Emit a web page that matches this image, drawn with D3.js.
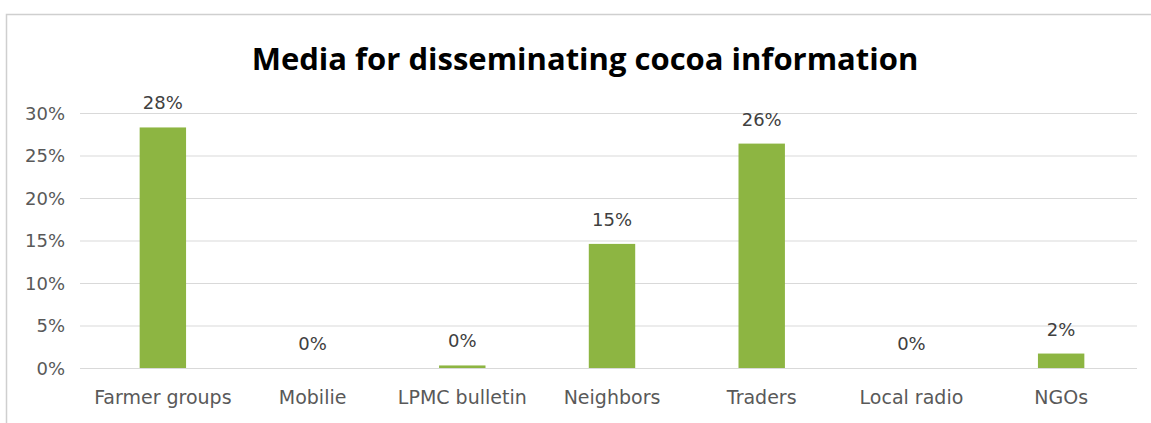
<!DOCTYPE html>
<html>
<head>
<meta charset="utf-8">
<script src="https://cdn.jsdelivr.net/npm/d3@7"></script>
<style>
  html, body { margin: 0; padding: 0; background: #fff; }
  svg { display: block; font-family: "DejaVu Sans", "Open Sans", sans-serif; }
</style>
</head>
<body>
<svg id="chart" width="1151" height="423"></svg>
<script>
// Share of respondents by channel used to receive cocoa information
const categories = ["Farmer groups", "Mobilie", "LPMC bulletin", "Neighbors", "Traders", "Local radio", "NGOs"];
const shares = [0.283, 0.0, 0.003, 0.146, 0.264, 0.0, 0.017];
const yTicks = [0, 0.05, 0.10, 0.15, 0.20, 0.25, 0.30];
const title = "Media for disseminating cocoa information";

const svg = d3.select("#chart");
const W = 1151, H = 423;

// Frame of the chart area
svg.append("rect")
  .attr("x", 6.5).attr("y", 14.5)
  .attr("width", W + 20).attr("height", H + 20)
  .attr("fill", "#fff")
  .attr("stroke", "#cfcfcf")
  .attr("stroke-width", 1.5);

const gridLeft = 80, gridRight = 1137;
const x = d3.scaleBand()
  .domain(categories)
  .range([88, 1136])
  .paddingInner(0.69)
  .paddingOuter(0.345);

const y = d3.scaleLinear()
  .domain([0, 0.30])
  .range([368, 113]);

const pct = d3.format(".0%");

// Title
svg.append("text")
  .attr("x", 585).attr("y", 70)
  .attr("text-anchor", "middle")
  .attr("font-family", "'Open Sans', 'Noto Sans', sans-serif")
  .attr("font-size", 31)
  .attr("font-weight", 700)
  .attr("fill", "#000")
  .text(title);

// Y axis with horizontal gridlines
const yAxis = svg.append("g")
  .attr("transform", `translate(${gridLeft},0)`)
  .call(d3.axisLeft(y)
    .tickValues(yTicks)
    .tickFormat(pct)
    .tickSize(-(gridRight - gridLeft))
    .tickPadding(15));
yAxis.select(".domain").remove();
yAxis.selectAll(".tick line")
  .attr("stroke", "#d9d9d9")
  .attr("stroke-width", 1.2);
yAxis.selectAll(".tick text")
  .attr("fill", "#595959")
  .attr("font-family", "'DejaVu Sans', sans-serif")
  .attr("font-size", 18)
  .attr("dy", "0.36em");

// Bars
svg.append("g").selectAll("rect")
  .data(categories)
  .join("rect")
  .attr("x", d => x(d))
  .attr("width", x.bandwidth())
  .attr("y", (d, i) => y(shares[i]))
  .attr("height", (d, i) => y(0) - y(shares[i]))
  .attr("fill", "#8db542");

// Value labels above bars
svg.append("g").selectAll("text")
  .data(categories)
  .join("text")
  .attr("x", d => x(d) + x.bandwidth() / 2)
  .attr("y", (d, i) => y(shares[i]) - 18)
  .attr("text-anchor", "middle")
  .attr("font-size", 18)
  .attr("fill", "#404040")
  .text((d, i) => pct(shares[i]));

// Category axis
const xAxis = svg.append("g")
  .attr("transform", `translate(0,${y(0)})`)
  .call(d3.axisBottom(x).tickSize(0).tickPadding(23));
xAxis.select(".domain").remove();
xAxis.selectAll(".tick text")
  .attr("fill", "#595959")
  .attr("font-family", "'DejaVu Sans', sans-serif")
  .attr("font-size", 19);
</script>
</body>
</html>
